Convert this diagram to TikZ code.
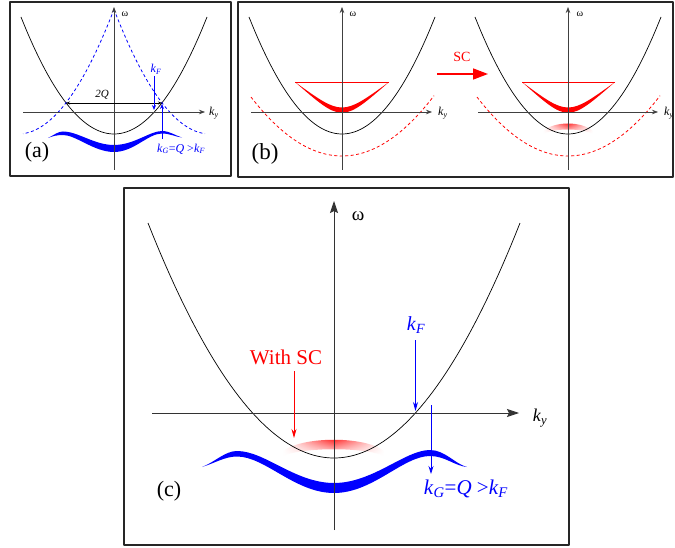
\documentclass[tikz,border=0pt]{standalone}
\usepackage{fontspec}
\setmainfont{LiberationSerif}[Extension=.ttf,UprightFont=*-Regular,ItalicFont=*-Italic,BoldFont=*-Bold,BoldItalicFont=*-BoldItalic]
\usetikzlibrary{arrows.meta,fadings}
\tikzfading[name=sidefade, left color=transparent!100, right color=transparent!100, middle color=transparent!0]
\newcommand{\fsz}[1]{\fontsize{#1}{#1}\selectfont}
\newcommand{\kk}[1]{\textit{k}\textsubscript{\textit{#1}}}
\begin{document}
\begin{tikzpicture}[x=1pt,y=-1pt,line join=round,
  frame/.style={line width=1.6pt,draw=black!85},
  axis/.style={line width=0.7pt,draw=black!75,-{Stealth[length=6pt,width=4.5pt]}},
  bigaxis/.style={line width=0.9pt,draw=black!80,-{Stealth[length=12pt,width=8pt,inset=2pt]}},
  para/.style={line width=0.7pt},
  lbl/.style={inner sep=0pt},
  bdash/.style={blue,line width=0.8pt,dash pattern=on 3pt off 2.5pt},
  rdash/.style={red,line width=0.8pt,dash pattern=on 3pt off 2.5pt}]
\useasboundingbox (0,0) rectangle (675,548);
\fill[white] (0,0) rectangle (675,548);

% ================= Panel (a) =================
\draw[frame] (10,2) rectangle (231,176);
\fill[blue] (48,138) .. controls (54,135) and (58,131.5) .. (63,131.5)
  .. controls (78,131.5) and (94,145) .. (114,145)
  .. controls (134,145) and (150,131) .. (162,131)
  .. controls (170,131) and (176,136) .. (182,137.5)
  .. controls (176,137) and (170,133.5) .. (162,133.5)
  .. controls (148,133.5) and (134,152) .. (114,152)
  .. controls (94,152) and (76,135) .. (63,135)
  .. controls (57,135) and (53,136) .. cycle;
\draw[para] plot[domain=-93:93,samples=61] ({114+\x},{134-(0.11632*\x)*(0.11632*\x)});
\draw[bdash] plot[domain=0:91,samples=40] ({114+\x},{134-(0.11632*(\x-96))*(0.11632*(\x-96))});
\draw[bdash] plot[domain=0:91,samples=40] ({114-\x},{134-(0.11632*(\x-96))*(0.11632*(\x-96))});
\draw[axis] (23,112) -- (205,112);
\draw[axis] (114,170) -- (114,7);
\node[lbl,font=\fsz{10}] (wa) at (125,14) {ω};
\node[lbl,font=\fsz{12}] (kya) at (214,113) {\kk{y}};
\coordinate (QL) at (66,103);
\coordinate (QR) at (162,103);
\draw[line width=0.8pt,{Stealth[length=4pt,width=3pt]}-{Stealth[length=4pt,width=3pt]}] (QL) -- (QR);
\node[lbl,font=\fsz{11}] (tq) at (102,95) {\textit{2Q}};
\node[lbl,font=\fsz{12},text=blue] (kfa) at (156,69) {\kk{F}};
\coordinate (kfaS) at (154,76);
\coordinate (kfaE) at (154,110);
\draw[blue,line width=0.8pt,-{Stealth[length=5pt,width=4pt]}] (kfaS) -- (kfaE);
\coordinate (kgaS) at (162,139);
\coordinate (kgaE) at (162,104);
\draw[blue,line width=0.8pt,-{Stealth[length=5pt,width=4pt]}] (kgaS) -- (kgaE);
\node[lbl,font=\fsz{12},text=blue] (kga) at (181,149) {\kk{G}=\textit{Q} >\kk{F}};
\node[lbl,font=\fsz{22}] (la) at (37,152) {(a)};

% ================= Panel (b) =================
\draw[frame] (238,2) rectangle (673,177);
% left sub-panel
\draw[rdash] plot[domain=-91:92,samples=50] ({342+\x},{156-(0.08438*\x)*(0.08438*\x)});
\draw[para] plot[domain=-93:93,samples=61] ({342+\x},{134-(0.11632*\x)*(0.11632*\x)});
\fill[red] (295,82) .. controls (342,116) .. (389,82) .. controls (342,123) .. cycle;
\draw[red,line width=0.6pt] (295,82) -- (389,82);
\draw[axis] (251,112) -- (432,112);
\draw[axis] (342,170) -- (342,7);
\node[lbl,font=\fsz{10}] (wb1) at (353,14) {ω};
\node[lbl,font=\fsz{12}] (kyb1) at (443,113) {\kk{y}};
% arrow SC
\coordinate (scS) at (437,74);
\coordinate (scE) at (488,74);
\draw[red,line width=1.6pt,-{Triangle[length=15pt,width=11pt]}] (scS) -- (scE);
\node[lbl,font=\fsz{14},text=red] (scb) at (462,57) {SC};
% right sub-panel
\shade[top color=red,bottom color=white,path fading=sidefade]
  (543,131) .. controls (555,121) and (581,121) .. (593,131)
  -- (593,134) .. controls (581,128) and (555,128) .. (543,134) -- cycle;
\draw[rdash] plot[domain=-91:92,samples=50] ({568+\x},{156-(0.08438*\x)*(0.08438*\x)});
\draw[para] plot[domain=-93:93,samples=61] ({568+\x},{134-(0.11632*\x)*(0.11632*\x)});
\fill[red] (522,82) .. controls (568,116) .. (615,82) .. controls (568,123) .. cycle;
\draw[red,line width=0.6pt] (522,82) -- (615,82);
\draw[axis] (478,112) -- (658,112);
\draw[axis] (568,170) -- (568,7);
\node[lbl,font=\fsz{10}] (wb2) at (580,14) {ω};
\node[lbl,font=\fsz{12}] (kyb2) at (669,113) {\kk{y}};
\node[lbl,font=\fsz{23}] (lb) at (265,154) {(b)};

% ================= Panel (c) =================
\draw[frame] (124,188) rectangle (569,545);
\shade[top color=red,bottom color=white,path fading=sidefade]
  (283,451) .. controls (303,436) and (365,436) .. (384,451)
  -- (384,456) .. controls (365,447) and (303,447) .. (283,456) -- cycle;
\fill[blue] (202,467) .. controls (215,462) and (225,451) .. (237,451)
  .. controls (265,451) and (295,483) .. (334,483)
  .. controls (373,483) and (405,450) .. (430,450)
  .. controls (445,450) and (455,464) .. (467,467)
  .. controls (455,466) and (445,456) .. (430,456)
  .. controls (403,456) and (373,493) .. (334,493)
  .. controls (295,493) and (265,456.5) .. (237,456.5)
  .. controls (225,456.5) and (215,463) .. cycle;
\draw[para] plot[domain=-186:186,samples=91] ({334+\x},{458-(0.08242*\x)*(0.08242*\x)});
\draw[bigaxis] (152,413) -- (519,413);
\draw[bigaxis] (334,530) -- (334,201);
\node[lbl,font=\fsz{19}] (wc) at (358,216) {ω};
\node[lbl,font=\fsz{18}] (kyc) at (540,418) {\kk{y}};
\node[lbl,font=\fsz{20},text=blue] (kfc) at (416,325) {\kk{F}};
\coordinate (kfcS) at (415.5,340);
\coordinate (kfcE) at (415.5,411);
\draw[blue,line width=0.8pt,-{Stealth[length=9pt,width=5pt]}] (kfcS) -- (kfcE);
\coordinate (kgcS) at (431,405);
\coordinate (kgcE) at (431,474);
\draw[blue,line width=0.8pt,-{Stealth[length=8pt,width=5pt]}] (kgcS) -- (kgcE);
\node[lbl,font=\fsz{21},text=blue] (kgc) at (466,489) {\kk{G}=\textit{Q} >\kk{F}};
\node[lbl,font=\fsz{21},text=red] (wsc) at (286,357) {With SC};
\coordinate (wscS) at (294,371);
\coordinate (wscE) at (294,438);
\draw[red,line width=0.8pt,-{Stealth[length=9pt,width=5pt]}] (wscS) -- (wscE);
\node[lbl,font=\fsz{22}] (lc) at (169,491) {(c)};
\end{tikzpicture}
\end{document}
